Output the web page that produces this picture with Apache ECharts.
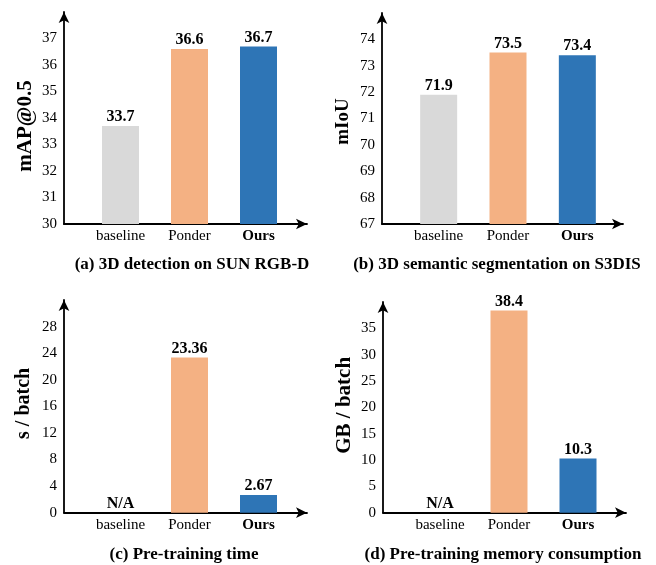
<!DOCTYPE html>
<html><head><meta charset="utf-8">
<script src="https://cdn.jsdelivr.net/npm/echarts@6/dist/echarts.min.js"></script>
<style>html,body{margin:0;padding:0;background:#fff}#c{width:656px;height:565px}</style>
</head><body><div id="c"></div>
<script>
// ---- data ----
const categories = ['baseline', 'Ponder', 'Ours'];
const detectionValues = [33.7, 36.6, 36.7];
const segmentationValues = [71.9, 73.5, 73.4];
const timeValues = [null, 23.36, 2.67];
const memoryValues = [null, 38.4, 10.3];
const detectionTicks = [30, 31, 32, 33, 34, 35, 36, 37];
const segmentationTicks = [67, 68, 69, 70, 71, 72, 73, 74];
const timeTicks = [0, 4, 8, 12, 16, 20, 24, 28];
const memoryTicks = [0, 5, 10, 15, 20, 25, 30, 35];
const yNames = ['mAP@0.5', 'mIoU', 's / batch', 'GB / batch'];
const titles = ['(a) 3D detection on SUN RGB-D', '(b) 3D semantic segmentation on S3DIS',
                '(c) Pre-training time', '(d) Pre-training memory consumption'];
const barColors = ['#d9d9d9', '#f4b183', '#2e75b6'];

// ---- layout / style ----
const FONT = 'Liberation Serif';
const panels = [
  {values: detectionValues, ticks: detectionTicks, min: 30, max: 38, interval: 1,
   axisLeft: 64, axisRight: 307, top: 12, bottom: 224, barLeft: 86, barW: 207,
   titleX: 192, titleY: 256, nameSize: 21, nameGap: 28, nameShift: 8},
  {values: segmentationValues, ticks: segmentationTicks, min: 67, max: 75, interval: 1,
   axisLeft: 382, axisRight: 623, top: 13, bottom: 224, barLeft: 404, barW: 208,
   titleX: 497, titleY: 256, nameSize: 19, nameGap: 29, nameShift: 3},
  {values: timeValues, ticks: timeTicks, min: 0, max: 32, interval: 4,
   axisLeft: 64, axisRight: 307, top: 300, bottom: 512.7, barLeft: 86, barW: 207,
   titleX: 184, titleY: 546, nameSize: 20, nameGap: 30, nameShift: -3},
  {values: memoryValues, ticks: memoryTicks, min: 0, max: 40, interval: 5,
   axisLeft: 383, axisRight: 626, top: 302, bottom: 512.7, barLeft: 405.5, barW: 207,
   titleX: 503, titleY: 546, nameSize: 21, nameGap: 28, nameShift: -2}
];

const grid = [], xAxis = [], yAxis = [], series = [], title = [];
const lineStyle = {color: '#000', width: 1.8};
panels.forEach((p, k) => {
  const h = p.bottom - p.top;
  grid.push({left: p.axisLeft, top: p.top, width: p.axisRight - p.axisLeft, height: h});
  grid.push({left: p.barLeft, top: p.top, width: p.barW, height: h});
  const ga = 2 * k, gb = 2 * k + 1;
  xAxis.push({gridIndex: ga, type: 'value', min: 0, max: 1,
    axisLine: {show: true, onZero: false, symbol: ['none', 'arrow'], symbolSize: [8, 11], lineStyle},
    axisTick: {show: false}, axisLabel: {show: false}, splitLine: {show: false}});
  xAxis.push({gridIndex: gb, type: 'category', data: categories,
    axisLine: {show: false}, axisTick: {show: false}, splitLine: {show: false},
    axisLabel: {interval: 0, hideOverlap: false, fontFamily: FONT, fontSize: 15, color: '#000', margin: 5,
      formatter: v => v === 'Ours' ? '{b|' + v + '}' : v,
      rich: {b: {fontFamily: FONT, fontSize: 15, fontWeight: 'bold', color: '#000'}}}});
  const pad = p.nameShift >= 0 ? [0, 2 * p.nameShift, 0, 0] : [0, 0, 0, -2 * p.nameShift];
  yAxis.push({gridIndex: ga, type: 'value', min: p.min, max: p.max, interval: p.interval,
    axisLine: {show: true, onZero: false, symbol: ['none', 'arrow'], symbolSize: [8, 11], lineStyle},
    axisTick: {show: false}, splitLine: {show: false},
    axisLabel: {fontFamily: FONT, fontSize: 15, color: '#000', margin: 7,
      formatter: v => p.ticks.includes(v) ? String(v) : ''},
    name: yNames[k], nameLocation: 'middle', nameRotate: 90, nameGap: p.nameGap,
    nameTextStyle: {fontFamily: FONT, fontSize: p.nameSize, fontWeight: 'bold', color: '#000', padding: pad}});
  yAxis.push({gridIndex: gb, type: 'value', min: p.min, max: p.max, show: false});
  series.push({type: 'bar', xAxisIndex: gb, yAxisIndex: gb, barWidth: 37,
    data: p.values.map((v, i) => v == null
      ? {value: p.min, itemStyle: {color: 'rgba(0,0,0,0)'}, label: {formatter: 'N/A'}}
      : {value: v, itemStyle: {color: barColors[i]}}),
    label: {show: true, position: 'top', distance: 1, fontFamily: FONT, fontSize: 16,
      fontWeight: 'bold', color: '#000'}});
  title.push({text: titles[k], left: p.titleX, top: p.titleY, textAlign: 'center', padding: 0,
    textStyle: {fontFamily: FONT, fontSize: 17, fontWeight: 'bold', color: '#000'}});
});

const chart = echarts.init(document.getElementById('c'), null, {renderer: 'canvas'});
chart.setOption({animation: false, backgroundColor: '#fff', title, grid, xAxis, yAxis, series});
</script></body></html>
